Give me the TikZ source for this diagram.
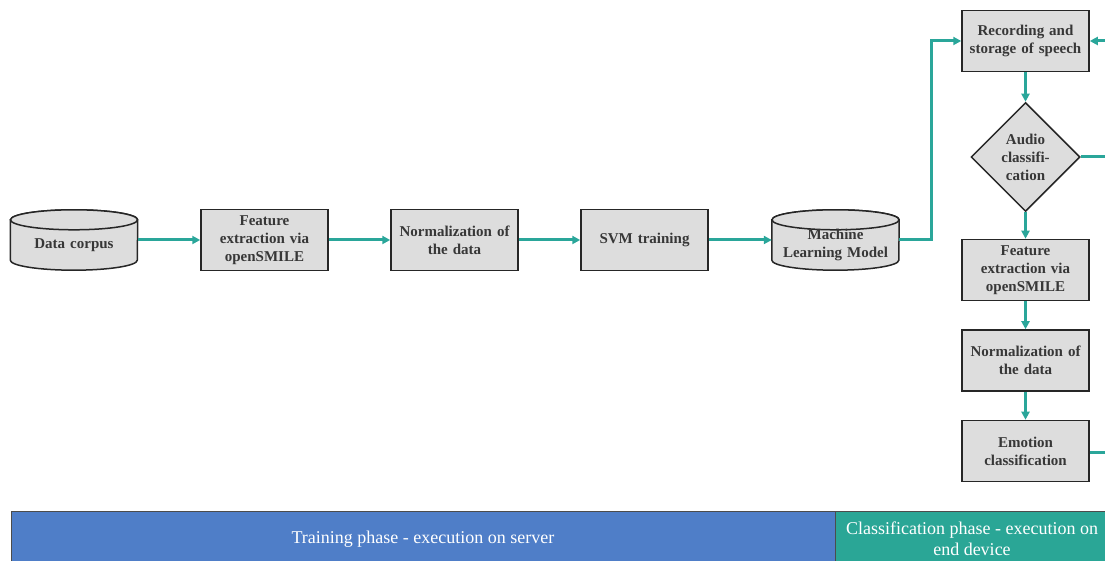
\documentclass[tikz,border=0pt]{standalone}
\usepackage{fontspec}
\setmainfont{Liberation Serif}
\usetikzlibrary{shapes.geometric,arrows.meta}
\definecolor{teal1}{RGB}{42,166,154}
\definecolor{boxgray}{RGB}{221,221,221}
\definecolor{txtgray}{RGB}{55,55,55}
\definecolor{blue1}{RGB}{79,126,200}
\definecolor{green1}{RGB}{42,166,150}
\tikzset{
  every picture/.style={x=1pt,y=1pt},
  box/.style={draw=black!85, line width=1.5pt, fill=boxgray, minimum width=127pt, minimum height=61pt, inner sep=1pt, align=center, text width=125pt, font=\fontsize{15}{18}\selectfont\bfseries, text=txtgray},
  cylnode/.style={minimum width=127pt, minimum height=60pt, inner sep=1pt, align=center, text width=125pt, font=\fontsize{15}{18}\selectfont\bfseries, text=txtgray},
  cylline/.style={draw=black!85, line width=1.5pt, fill=boxgray},
  dia/.style={diamond, aspect=1, draw=black!85, line width=1.5pt, fill=boxgray, minimum width=109pt, minimum height=109pt, inner sep=0pt, align=center, font=\fontsize{15}{18}\selectfont\bfseries, text=txtgray},
  arr/.style={draw=teal1, line width=3pt, -{Triangle[length=8pt,width=8pt]}},
  ln/.style={draw=teal1, line width=3pt},
  phase/.style={draw=none, inner sep=0pt, align=center, text=white, font=\fontsize{18}{21}\selectfont}
}
\begin{document}
\begin{tikzpicture}
\useasboundingbox (0,0) rectangle (1105,561);
% cylinders as nodes
\node[cylnode] (dc) at (74,321) {};
\node[cylnode] (ml) at (835.5,321) {};
\foreach \n in {dc,ml}{
  \path[cylline] ([yshift=-10pt]\n.north west) -- ([yshift=10pt]\n.south west)
     arc[start angle=180,end angle=360,x radius=63.5pt,y radius=10pt]
     -- ([yshift=-10pt]\n.north east)
     arc[start angle=0,end angle=180,x radius=63.5pt,y radius=10pt] -- cycle;
  \draw[cylline] ([yshift=-10pt]\n.north) ellipse[x radius=63.5pt,y radius=10pt];
}
\node[cylnode, yshift=-5pt] (dct) at (dc) {Data corpus};
\node[cylnode, yshift=-5pt] (mlt) at (ml) {Machine\\Learning Model};

\node[box] (f1) at (264.5,321) {Feature\\extraction via\\openSMILE};
\node[box] (n1) at (454.5,321) {Normalization of\\the data};
\node[box] (svm) at (644.5,321) {SVM training};

\node[box] (rec) at (1025.5,520) {Recording and\\storage of speech};
\node[dia] (ac) at (1025.5,404) {Audio\\classifi-\\cation};
\node[box] (f2) at (1025.5,291) {Feature\\extraction via\\openSMILE};
\node[box] (n2) at (1025.5,200.5) {Normalization of\\the data};
\node[box] (emo) at (1025.5,110) {Emotion\\classification};

\coordinate (acout) at (1105,404);
\coordinate (emoout) at (1105,108);
\coordinate (recin) at (1105,520);

\draw[arr] (dc.east) -- (f1.west);
\draw[arr] (f1.east) -- (n1.west);
\draw[arr] (n1.east) -- (svm.west);
\draw[arr] (svm.east) -- (ml.west);
\draw[arr] (ml.east) -- ++(32,0) |- (rec.west);
\draw[arr] (rec.south) -- (ac.north);
\draw[arr] (ac.south) -- (f2.north);
\draw[arr] (f2.south) -- (n2.north);
\draw[arr] (n2.south) -- (emo.north);
\draw[ln] (ac.east) -- (acout);
\draw[ln] (emo.east |- emoout) -- (emoout);
\draw[arr] (recin) -- (rec.east);

% phase bar
\fill[blue1] (11,0) rectangle (835,50);
\fill[green1] (835,0) rectangle (1105,50);
\draw[black!70, line width=0.8pt] (11,0) -- (11,50) -- (1105,50);
\draw[black!70, line width=0.8pt] (835,0) -- (835,50);
\node[phase] (tp) at (423,22) {Training phase - execution on server};
\node[phase] (cp) at (972,22) {Classification phase - execution on\\end device};
\end{tikzpicture}
\end{document}
